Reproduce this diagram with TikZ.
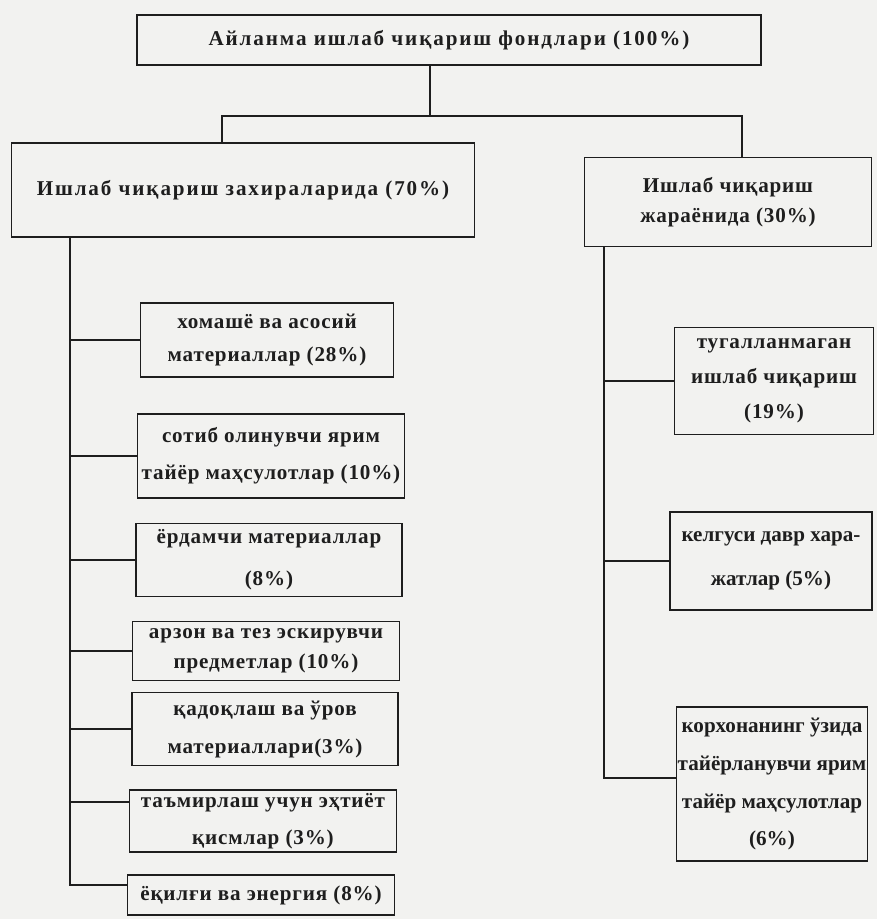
\documentclass[tikz,border=0pt]{standalone}
\usepackage{fontspec}
\setmainfont{Liberation Serif}
\newfontfamily\cyrfont[LetterSpace=4]{Liberation Serif}
\newfontfamily\cyrwide[LetterSpace=9]{Liberation Serif}
\newfontfamily\cyrtight{Liberation Serif}
\definecolor{paper}{HTML}{F2F2F0}
\definecolor{ink}{HTML}{1E1E1E}

\tikzset{
  fund/.style={draw=ink, text=ink, line width=1.1pt, align=center, inner sep=1pt,
    font=\cyrfont\bfseries\fontsize{15}{24}\selectfont},
  lsp/.style={font=\cyrfont\bfseries\fontsize{15}{#1}\selectfont},
  wide/.style={font=\cyrwide\bfseries\fontsize{15}{24}\selectfont},
  tight/.style={font=\cyrtight\bfseries\fontsize{15}{#1}\selectfont},
  link/.style={draw=ink, line width=1.1pt},
}

\begin{document}
\begin{tikzpicture}[x=0.025cm, y=-0.025cm]
  \path [use as bounding box, fill=paper] (0,0) rectangle (877,919);

  % top level
  \node [fund, wide, minimum width=15.6cm, minimum height=1.25cm] (fond) at (449,40) {Айланма ишлаб чиқариш фондлари (100\%)};

  \node [fund, wide, minimum width=11.575cm, minimum height=2.35cm] (zax) at (243,190) {Ишлаб чиқариш захираларида (70\%)};
  \node [fund, lsp=21, minimum width=7.175cm, minimum height=2.225cm] (jar) at (728,202) {Ишлаб чиқариш\\жараёнида (30\%)};

  % stocks
  \node [fund, lsp=24, minimum width=6.325cm, minimum height=1.85cm] (z1) at (267,340) {хомашё ва асосий\\материаллар (28\%)};
  \node [fund, lsp=26, minimum width=6.675cm, minimum height=2.1cm] (z2) at (271,456) {сотиб олинувчи ярим\\тайёр маҳсулотлар (10\%)};
  \node [fund, lsp=30, minimum width=6.65cm, minimum height=1.825cm] (z3) at (269,560) {ёрдамчи материаллар\\(8\%)};
  \node [fund, lsp=21, minimum width=6.675cm, minimum height=1.475cm] (z4) at (266,651) {арзон ва тез эскирувчи\\предметлар (10\%)};
  \node [fund, lsp=27, minimum width=6.65cm, minimum height=1.825cm] (z5) at (265,729) {қадоқлаш ва ўров\\материаллари(3\%)};
  \node [fund, lsp=26, minimum width=6.675cm, minimum height=1.55cm] (z6) at (263,821) {таъмирлаш учун эҳтиёт\\қисмлар (3\%)};
  \node [fund, minimum width=6.675cm, minimum height=1.0cm] (z7) at (261,895) {ёқилғи ва энергия (8\%)};

  % in process
  \node [fund, lsp=25, minimum width=4.975cm, minimum height=2.675cm] (j1) at (774,381) {тугалланмаган\\ишлаб чиқариш\\(19\%)};
  \node [fund, tight=31, minimum width=5.05cm, minimum height=2.45cm] (j2) at (771,561) {келгуси давр хара-\\жатлар (5\%)};
  \node [fund, tight=27, minimum width=4.775cm, minimum height=3.85cm] (j3) at (772,784) {корхонанинг ўзида\\тайёрланувчи ярим\\тайёр маҳсулотлар\\(6\%)};

  \coordinate (hub) at (430,116);
  \coordinate (hl) at (222,116);
  \coordinate (hr) at (742,116);
  \coordinate (tl) at (70,885);
  \coordinate (tr) at (604,778);
  \coordinate (z6in) at ([yshift=0.475cm]z6.west);

  \draw [link] (hub |- fond.south) -- (hub);
  \draw [link] (zax.north -| hl) -- (hl) -- (hr) -- (jar.north -| hr);

  \draw [link] (tl |- zax.south) -- (tl) -- (tl -| z7.west);
  \foreach \b in {z1,z2,z3,z4,z5,z6in}
    \draw [link] (tl |- \b) -- (\b);

  \draw [link] (tr |- jar.south) -- (tr) -- (tr -| j3.west);
  \foreach \b in {j1,j2}
    \draw [link] (tr |- \b.west) -- (\b.west);
\end{tikzpicture}
\end{document}
